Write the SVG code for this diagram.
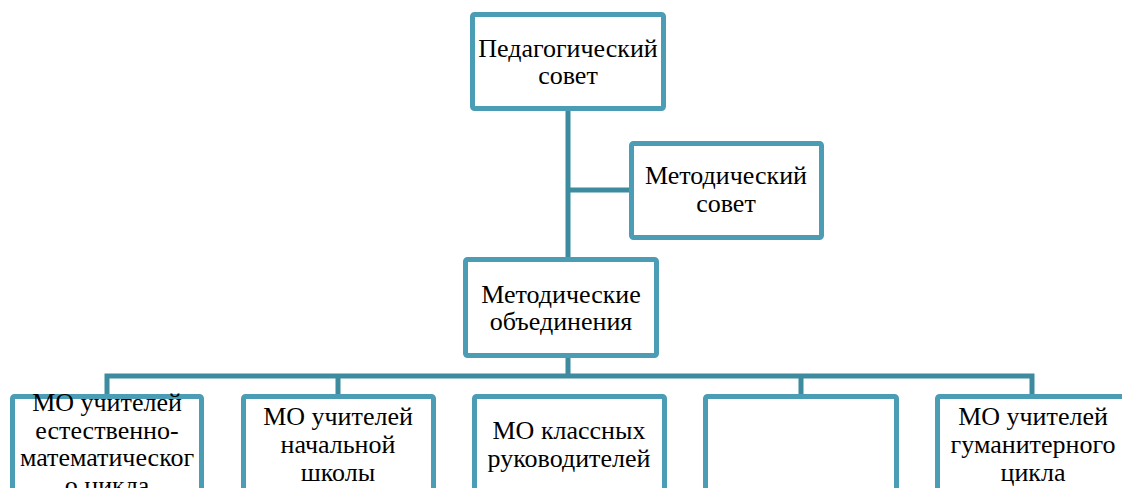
<svg xmlns="http://www.w3.org/2000/svg" width="1122" height="488" viewBox="0 0 1122 488">
<style>
.box{fill:#ffffff;stroke:#4a9db5;stroke-width:5}
.con{fill:none;stroke:#3c8b9e;stroke-width:5}
text{font-family:"Liberation Serif","Times New Roman",serif;font-size:26px;fill:#000;text-anchor:middle}
</style>
<rect width="1122" height="488" fill="#ffffff"/>
<g id="connectors">
<path class="con" d="M568 110 V259"/>
<path class="con" d="M568 190 H631"/>
<path class="con" d="M568 356 V377"/>
<path class="con" d="M107 396 V376 H1032 V396"/>
<path class="con" d="M338 376 V396"/>
<path class="con" d="M801 376 V396"/>
</g>
<g id="ped-sovet">
<rect class="box" x="472.5" y="14.5" width="191" height="94" rx="2"/>
<text x="568" y="57">Педагогический</text>
<text x="568" y="84">совет</text>
</g>
<g id="met-sovet">
<rect class="box" x="631.5" y="143.5" width="190" height="94" rx="2"/>
<text x="726" y="184">Методический</text>
<text x="726" y="212">совет</text>
</g>
<g id="met-ob">
<rect class="box" x="465.5" y="259.5" width="191" height="96" rx="2"/>
<text x="561" y="303">Методические</text>
<text x="561" y="330">объединения</text>
</g>
<g id="mo-est">
<rect class="box" x="12.5" y="396.5" width="189" height="120" rx="2"/>
<text x="107" y="411">МО учителей</text>
<text x="107" y="439">естественно-</text>
<text x="107" y="466">математическог</text>
<text x="107" y="494">о цикла</text>
</g>
<g id="mo-nach">
<rect class="box" x="243.5" y="396.5" width="190" height="120" rx="2"/>
<text x="338" y="425">МО учителей</text>
<text x="338" y="453">начальной</text>
<text x="338" y="481">школы</text>
</g>
<g id="mo-klass">
<rect class="box" x="474.5" y="396.5" width="190" height="120" rx="2"/>
<text x="569" y="439">МО классных</text>
<text x="569" y="467">руководителей</text>
</g>
<g id="mo-empty">
<rect class="box" x="705.5" y="396.5" width="191" height="120" rx="2"/>
</g>
<g id="mo-gum">
<rect class="box" x="937.5" y="396.5" width="191" height="120" rx="2"/>
<text x="1033" y="425">МО учителей</text>
<text x="1033" y="453">гуманитерного</text>
<text x="1033" y="481">цикла</text>
</g>
</svg>
